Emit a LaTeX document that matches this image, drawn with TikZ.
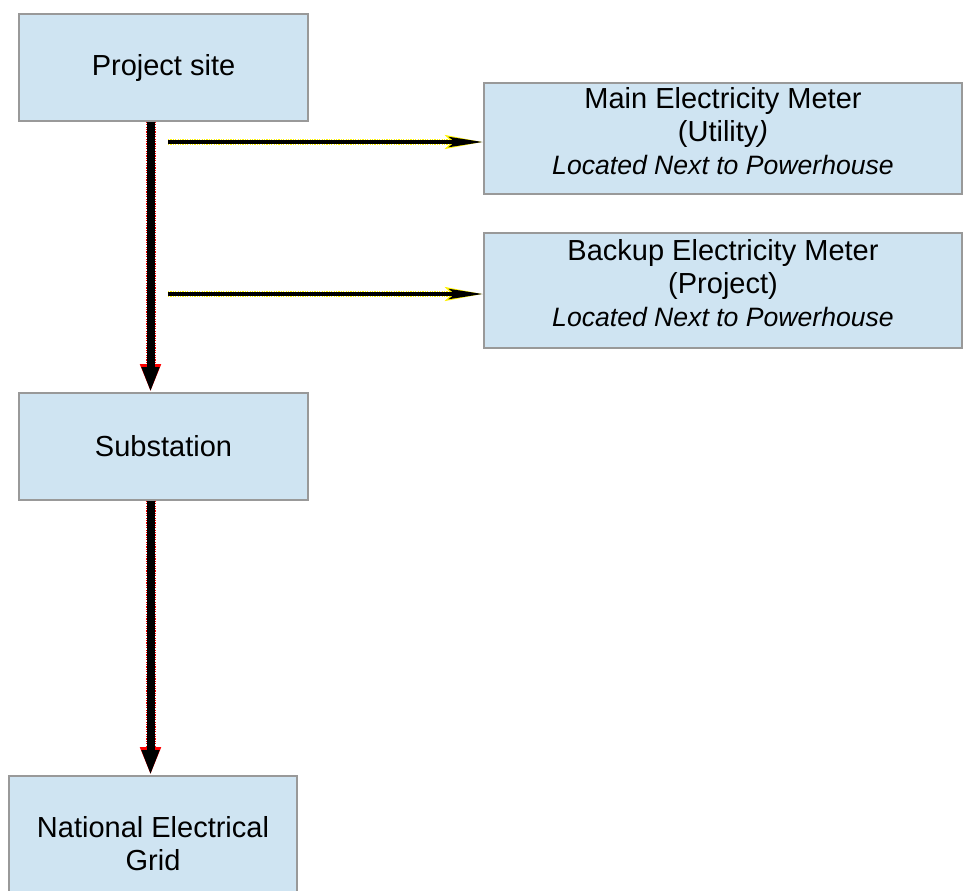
\documentclass[tikz,border=0pt]{standalone}
\usepackage{fontspec}
\setmainfont{Liberation Sans}
\usetikzlibrary{arrows.meta, positioning}
\definecolor{boxblue}{HTML}{CFE4F2}
\definecolor{boxline}{HTML}{999999}

\begin{document}
\begin{tikzpicture}[x=0.5pt,y=-0.5pt,
                    box node/.style={rectangle,fill=boxblue,draw=boxline,line width=0.8pt,
                                     align=center,inner sep=0pt,font=\fontsize{14.5}{16.4}\selectfont},
                    meter node/.style={box node,minimum width=239pt,text depth=7.8pt},
                    power line/.style={line width=4pt,-{Triangle[length=12.5pt,width=8pt]},
                                       preaction={draw=red,line width=5pt,dash pattern=on 0.6pt off 0.6pt,
                                                  -{Triangle[length=14pt,width=9.5pt]}}},
                    meter line/.style={line width=2.2pt,-{Stealth[length=17pt,width=5pt,inset=3pt]},
                                       preaction={draw=yellow,line width=3.2pt,dash pattern=on 0.6pt off 0.6pt,
                                                  -{Stealth[length=18.5pt,width=6.5pt,inset=3pt]}}}]

        \useasboundingbox (0,0) rectangle (963,890);

        \node[box node, minimum width=144.5pt, minimum height=53.5pt] (site) at (163.5,67.5) {Project site};
        \node[meter node, minimum height=55.5pt] (meter) at (723,138.5)
            {Main Electricity Meter\\(Utility\textit{)}\\{\fontsize{13.3}{16.4}\selectfont\itshape Located Next to Powerhouse}};
        \node[meter node, minimum height=57.5pt] (backup) at (723,290.5)
            {Backup Electricity Meter\\(Project)\\{\fontsize{13.3}{16.4}\selectfont\itshape Located Next to Powerhouse}};
        \node[box node, minimum width=144.5pt, minimum height=53.5pt] (sub) at (163.5,446.5) {Substation};
        \node[box node, minimum width=144pt, minimum height=68pt] (grid) at (153,844) {National Electrical\\Grid};

        % trunk line and taps to the meters
        \coordinate (trunk) at (150.5,0);
        \coordinate (tap1) at (168,142);
        \coordinate (tap2) at (168,294);

        \draw[power line] (site.south -| trunk) -- (sub.north -| trunk);
        \draw[power line] (sub.south -| trunk) -- (grid.north -| trunk);
        \draw[meter line] (tap1) -- (tap1 -| meter.west);
        \draw[meter line] (tap2) -- (tap2 -| backup.west);
\end{tikzpicture}
\end{document}
